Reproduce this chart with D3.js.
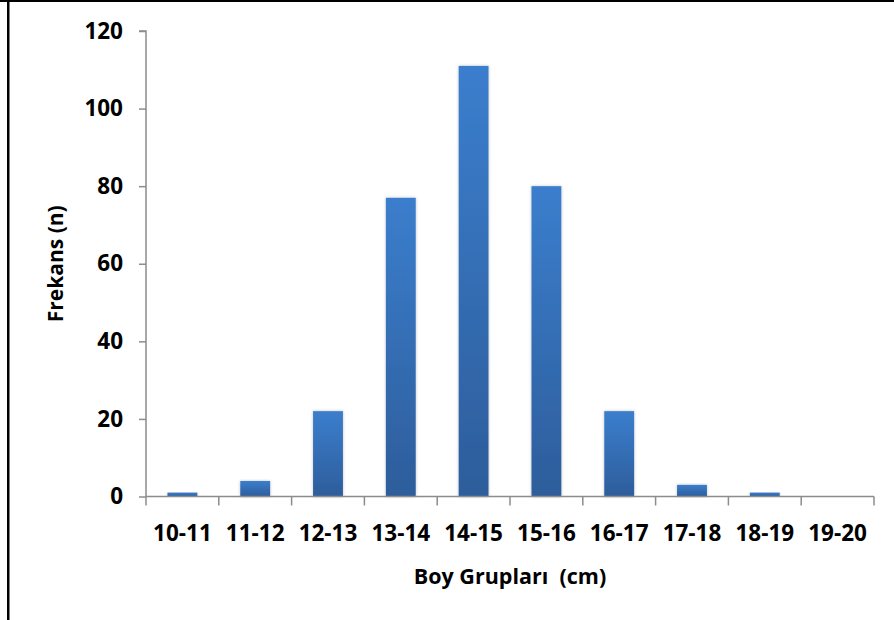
<!DOCTYPE html>
<html>
<head>
<meta charset="utf-8">
<script src="https://cdn.jsdelivr.net/npm/d3@7"></script>
<style>
  body { margin: 0; background: #fff; }
  svg { display: block; font-family: "Open Sans", sans-serif; font-weight: bold; }
</style>
</head>
<body>
<div class="chart"></div>
<script>
var w = 894;
var h = 620;

var categories = ["10-11", "11-12", "12-13", "13-14", "14-15", "15-16", "16-17", "17-18", "18-19", "19-20"];
var frequencies = [1, 4, 22, 77, 111, 80, 22, 3, 1, 0];
var yTicks = [0, 20, 40, 60, 80, 100, 120];

var margin = {top: 31, right: 20, bottom: 124, left: 146};
var x0 = margin.left, x1 = 874;
var y0 = 496.5, y1 = margin.top;

var xScale = d3.scaleBand()
    .domain(categories)
    .range([x0, x1])
    .paddingInner(0.59)
    .paddingOuter(0.295);

var yScale = d3.scaleLinear()
    .domain([0, 120])
    .range([y0, y1]);

var svg = d3.select(".chart")
    .append("svg")
    .attr("width", w)
    .attr("height", h);

var defs = svg.append("defs");
var grad = defs.append("linearGradient")
    .attr("id", "barGrad")
    .attr("x1", 0).attr("y1", 0)
    .attr("x2", 0).attr("y2", 1);
grad.append("stop").attr("offset", "0%").attr("stop-color", "#3b7ecd");
grad.append("stop").attr("offset", "100%").attr("stop-color", "#2d5d9b");

var shadow = defs.append("filter")
    .attr("id", "shadow")
    .attr("x", "-30%").attr("y", "-10%")
    .attr("width", "160%").attr("height", "120%");
shadow.append("feDropShadow")
    .attr("dx", 0).attr("dy", 0)
    .attr("stdDeviation", 1.5)
    .attr("flood-color", "#000")
    .attr("flood-opacity", 0.25);

// outer frame (only top and left edges visible)
svg.append("rect")
    .attr("x", 0).attr("y", 0)
    .attr("width", w).attr("height", 2)
    .attr("fill", "#000");
svg.append("rect")
    .attr("x", 7).attr("y", 0)
    .attr("width", 2.5).attr("height", h)
    .attr("fill", "#000");

// bars
svg.selectAll("rect.bar")
    .data(frequencies)
    .enter()
    .append("rect")
    .attr("class", "bar")
    .attr("x", function(d, i) { return xScale(categories[i]); })
    .attr("y", function(d) { return yScale(d); })
    .attr("width", xScale.bandwidth())
    .attr("height", function(d) { return y0 - yScale(d); })
    .attr("fill", "url(#barGrad)")
    .attr("filter", "url(#shadow)")
    .style("display", function(d) { return d > 0 ? null : "none"; });

// y axis
var yAxis = d3.axisLeft(yScale)
    .tickValues(yTicks)
    .tickSize(7)
    .tickPadding(16);

var gy = svg.append("g")
    .attr("transform", "translate(" + x0 + ",0)")
    .call(yAxis);
gy.select(".domain").attr("stroke", "#8c8c8c").attr("stroke-width", 1.5)
    .attr("d", "M-7," + y1 + "H0V" + y0);
gy.selectAll(".tick line").attr("stroke", "#8c8c8c").attr("stroke-width", 1.5);
gy.selectAll(".tick text")
    .attr("fill", "#000")
    .style("font-size", "22.5px")
    .style("font-weight", "bold")
    .style("font-family", "'Open Sans', sans-serif");

// x axis with category boundary ticks
var gx = svg.append("g")
    .attr("transform", "translate(0," + y0 + ")");
gx.append("path")
    .attr("d", "M" + x0 + ",0H" + x1)
    .attr("stroke", "#8c8c8c")
    .attr("stroke-width", 1.5)
    .attr("fill", "none");
var step = xScale.step();
gx.selectAll("line.sep")
    .data(d3.range(categories.length + 1))
    .enter()
    .append("line")
    .attr("class", "sep")
    .attr("x1", function(i) { return x0 + i * step; })
    .attr("x2", function(i) { return x0 + i * step; })
    .attr("y1", 0).attr("y2", 9)
    .attr("stroke", "#8c8c8c")
    .attr("stroke-width", 1.5);
gx.selectAll("text.cat")
    .data(categories)
    .enter()
    .append("text")
    .attr("class", "cat")
    .attr("x", function(d) { return xScale(d) + xScale.bandwidth() / 2; })
    .attr("y", 44)
    .attr("text-anchor", "middle")
    .style("font-size", "22.5px")
    .text(function(d) { return d; });

// axis titles
svg.append("text")
    .attr("x", (x0 + x1) / 2)
    .attr("y", 584)
    .attr("text-anchor", "middle")
    .style("font-size", "21.5px")
    .style("white-space", "pre")
    .text("Boy Grupları  (cm)");

svg.append("text")
    .attr("transform", "translate(63," + ((y0 + y1) / 2) + ") rotate(-90)")
    .attr("text-anchor", "middle")
    .style("font-size", "21px")
    .text("Frekans (n)");
</script>
</body>
</html>
